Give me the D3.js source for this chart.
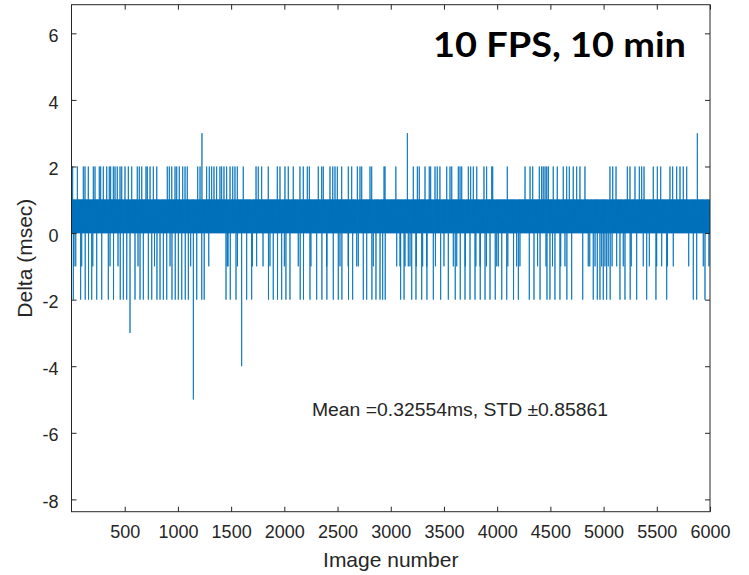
<!DOCTYPE html>
<html>
<head>
<meta charset="utf-8">
<script src="https://cdn.jsdelivr.net/npm/d3@7/dist/d3.min.js"></script>
<style>
  html, body { margin: 0; padding: 0; background: #fff; }
  svg { display: block; }
  text { font-family: "Liberation Sans", Arial, Helvetica, sans-serif; fill: #262626; }
</style>
</head>
<body>
<svg id="chart" width="749" height="575"></svg>
<script>
// ---------------- data ----------------
const imageCount = 6000;
// the dense band: the signal keeps flipping between 0 and 1 ms (mean ~0.33)
const baselineCycle = [0, 1, 0];
// image numbers where the delta jumps to +2 ms
const spikesPlus2 = [11, 55, 111, 127, 158, 205, 221, 261, 274, 299, 331, 355, 368, 393, 409, 430, 456, 472, 503, 534, 566, 618, 637, 660, 700, 712, 738, 769, 801, 900, 919, 942, 973, 989, 1013, 1045, 1067, 1088, 1186, 1208, 1270, 1295, 1317, 1339, 1364, 1395, 1411, 1433, 1458, 1490, 1515, 1536, 1558, 1614, 1734, 1755, 1787, 1849, 1934, 1959, 2006, 2037, 2084, 2147, 2178, 2216, 2235, 2319, 2351, 2366, 2429, 2455, 2476, 2498, 2539, 2601, 2633, 2686, 2711, 2727, 2805, 2821, 2937, 2946, 3048, 3212, 3250, 3268, 3322, 3362, 3375, 3416, 3437, 3462, 3526, 3557, 3573, 3635, 3651, 3667, 3729, 3751, 3776, 3808, 3876, 3901, 3949, 3958, 4095, 4262, 4309, 4334, 4396, 4418, 4433, 4450, 4466, 4481, 4527, 4565, 4621, 4653, 4678, 4715, 4747, 4778, 4825, 5060, 5086, 5117, 5223, 5248, 5295, 5336, 5358, 5380, 5467, 5505, 5537, 5624, 5649, 5687, 5718, 5749, 5781];
// image numbers where the delta drops to -1 ms
const spikesMinus1 = [23, 40, 96, 200, 362, 437, 520, 625, 780, 926, 1120, 1290, 1364, 1464, 1471, 1560, 1700, 1740, 1800, 1865, 2000, 2131, 2250, 2398, 2523, 2600, 2680, 2695, 2836, 2900, 3056, 3087, 3134, 3165, 3181, 3240, 3300, 3338, 3420, 3500, 3588, 3620, 3700, 3800, 3839, 3900, 3996, 4011, 4100, 4183, 4214, 4262, 4380, 4459, 4520, 4597, 4637, 4700, 4856, 4870, 4920, 4982, 5013, 5044, 5080, 5123, 5185, 5260, 5373, 5430, 5499, 5546, 5600, 5655, 5800, 5937, 5990];
// image numbers where the delta drops to -2 ms
const spikesMinus2 = [17, 86, 129, 160, 190, 237, 284, 346, 395, 458, 487, 519, 597, 644, 675, 722, 754, 803, 832, 863, 895, 944, 975, 1004, 1036, 1069, 1098, 1177, 1224, 1247, 1452, 1492, 1546, 1646, 1693, 1851, 1896, 1936, 1975, 2015, 2053, 2149, 2180, 2241, 2304, 2353, 2400, 2460, 2507, 2541, 2603, 2642, 2742, 2774, 2823, 2861, 2899, 2948, 2924, 3093, 3125, 3197, 3237, 3291, 3340, 3400, 3469, 3541, 3606, 3653, 3698, 3745, 3792, 3841, 3886, 3933, 3982, 4043, 4090, 4154, 4199, 4302, 4346, 4403, 4468, 4496, 4543, 4590, 4655, 4700, 4804, 4903, 4941, 4966, 4997, 5029, 5062, 5154, 5201, 5250, 5311, 5405, 5492, 5593, 5843, 5875, 5953];
// isolated large outliers: [image number, delta ms]
const outliers = [[1226, 3], [3156, 3], [5881, 3], [550, -3], [1145, -5], [1599, -4]];

const xTicks = [500, 1000, 1500, 2000, 2500, 3000, 3500, 4000, 4500, 5000, 5500, 6000];
const yTicks = [-8, -6, -4, -2, 0, 2, 4, 6];
const xLabel = "Image number";
const yLabel = "Delta (msec)";
const statsText = "Mean =0.32554ms, STD \u00b10.85861";
const titleText = "10 FPS, 10 min";

// ---------------- build the series ----------------
const overrides = new Map();
spikesMinus1.forEach(i => overrides.set(i, -1));
spikesPlus2.forEach(i => overrides.set(i, 2));
spikesMinus2.forEach(i => overrides.set(i, -2));
outliers.forEach(([i, v]) => overrides.set(i, v));
const series = [];
for (let i = 1; i <= imageCount; i++) {
  series.push({ n: i, v: overrides.has(i) ? overrides.get(i) : baselineCycle[i % baselineCycle.length] });
}

// ---------------- layout ----------------
const svg = d3.select("#chart");
const L = 71.5, R = 710, T = 4.7, B = 511.7;
const x = d3.scaleLinear().domain([0, 6000]).range([L, R]);
const y = d3.scaleLinear().domain([-8.37, 6.86]).range([B, T]);
const axisColor = "#262626";
const plainNum = d => String(d);

svg.append("defs").append("clipPath").attr("id", "clip")
  .append("rect").attr("x", L).attr("y", T).attr("width", R - L).attr("height", B - T);

// data line
svg.append("path")
  .datum(series)
  .attr("clip-path", "url(#clip)")
  .attr("fill", "none")
  .attr("stroke", "#0072BD")
  .attr("stroke-width", 0.8)
  .attr("d", d3.line().x(d => x(d.n)).y(d => y(d.v)));

// axes (inside ticks, mirrored on top/right like MATLAB box)
const tickLen = 5;
const gB = svg.append("g").attr("transform", `translate(0,${B})`)
  .call(d3.axisBottom(x).tickValues(xTicks).tickFormat(plainNum).tickSizeInner(-tickLen).tickSizeOuter(0).tickPadding(14));
const gT = svg.append("g").attr("transform", `translate(0,${T})`)
  .call(d3.axisTop(x).tickValues(xTicks).tickSizeInner(-tickLen).tickSizeOuter(0).tickFormat(""));
const gL = svg.append("g").attr("transform", `translate(${L},0)`)
  .call(d3.axisLeft(y).tickValues(yTicks).tickFormat(plainNum).tickSizeInner(-tickLen).tickSizeOuter(0).tickPadding(13));
const gR = svg.append("g").attr("transform", `translate(${R},0)`)
  .call(d3.axisRight(y).tickValues(yTicks).tickSizeInner(-tickLen).tickSizeOuter(0).tickFormat(""));
[gB, gT, gL, gR].forEach(g => {
  g.select(".domain").remove();
  g.selectAll(".tick line").attr("stroke", axisColor).attr("stroke-width", 1);
  g.selectAll(".tick text").attr("fill", axisColor).style("font-size", "18px")
    .style("font-family", '"Liberation Sans", Arial, sans-serif');
});
gL.selectAll(".tick text").attr("dy", "0.45em");
gB.selectAll(".tick text").attr("dy", "0.71em");

// box
svg.append("rect").attr("x", L).attr("y", T).attr("width", R - L).attr("height", B - T)
  .attr("fill", "none").attr("stroke", axisColor).attr("stroke-width", 1);

// axis labels
svg.append("text").attr("x", (L + R) / 2).attr("y", 567).attr("text-anchor", "middle")
  .style("font-size", "21px").text(xLabel);
svg.append("text").attr("transform", `translate(32,${(T + B) / 2}) rotate(-90)`)
  .attr("text-anchor", "middle").style("font-size", "21px").text(yLabel);

// statistics annotation
svg.append("text").attr("x", 312).attr("y", 416)
  .attr("textLength", 296).attr("lengthAdjust", "spacingAndGlyphs")
  .style("font-size", "18px").text(statsText);

// title
svg.append("text").attr("x", 433).attr("y", 57)
  .attr("textLength", 253).attr("lengthAdjust", "spacingAndGlyphs")
  .style("font-family", 'Lato, "Open Sans", sans-serif').style("font-weight", "bold")
  .style("font-size", "35px").style("fill", "#000").text(titleText);
</script>
</body>
</html>
